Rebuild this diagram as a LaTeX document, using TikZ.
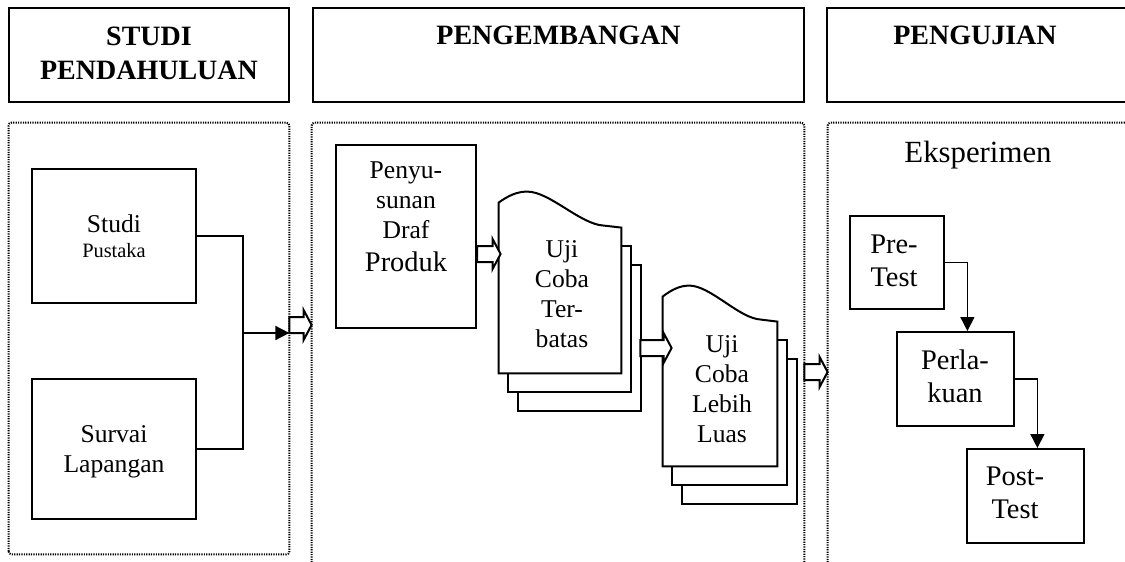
\documentclass[tikz,border=0pt]{standalone}
\usepackage{fontspec}
\setmainfont{Liberation Serif}
\usetikzlibrary{arrows.meta,calc}
\tikzset{
 hbox/.style={draw, line width=1pt, rectangle, inner sep=0},
 box/.style={draw, line width=1pt, rectangle, inner sep=0, fill=white},
 page/.style={draw, line width=1pt, fill=white},
 panel/.style={rectangle, inner sep=0},
 dotline/.style={line width=1pt, dash pattern=on 0.6pt off 0.6pt},
 conn/.style={line width=0.8pt},
 tri/.style={-{Triangle[length=7pt,width=7pt]}},
 hollow/.style={draw, line width=1pt, fill=white, line join=miter},
 lbl/.style={inner sep=0, align=center, anchor=base, font=\fontsize{12.8}{15}\selectfont},
 big/.style={font=\fontsize{14.2}{16.5}\selectfont},
 head/.style={inner sep=0, align=center, anchor=base, font=\fontsize{14}{17}\selectfont\bfseries},
}
\newcommand\hollowarrow[3]{%
 \path[hollow] let \p1=(#1), \p2=(#2), \p3=(0,#3) in
  (\x1,\y3+4pt) -- (\x2-4pt,\y3+4pt) -- (\x2-4pt,\y3+7.5pt) -- (\x2,\y3)
  -- (\x2-4pt,\y3-7.5pt) -- (\x2-4pt,\y3-4pt) -- (\x1,\y3-4pt) -- cycle;}
\newcommand\docstack[1]{%
 \path[page] ($(#1.north west)+(19.5,62)$) rectangle ($(#1.south east)+(19.5,38)$);
 \path[page] ($(#1.north west)+(9.5,43)$) rectangle ($(#1.south east)+(9.5,19)$);
 \path[page] (#1.south west) -- (#1.south east) -- ($(#1.north east)+(0,25)$)
  -- ($(#1.north west)!0.858!(#1.north east)+(0,23)$)
  .. controls ($(#1.north west)!0.667!(#1.north east)+(0,22)$) and ($(#1.north west)!0.417!(#1.north east)+(0,-11)$)
  .. ($(#1.north west)!0.233!(#1.north east)+(0,-11)$)
  .. controls ($(#1.north west)!0.15!(#1.north east)+(0,-11)$) and ($(#1.north west)!0.08!(#1.north east)+(0,-7)$)
  .. (#1.north west) -- cycle;}
\begin{document}
\begin{tikzpicture}[x=0.5pt, y=-0.5pt]
\useasboundingbox (0,0) rectangle (1125,562);
% headings
\node[hbox, minimum width=140pt, minimum height=47pt] (h1) at (149,55) {};
\node[hbox, minimum width=245.5pt, minimum height=47pt] (h2) at (558.5,55) {};
\node[hbox, minimum width=150.5pt, minimum height=47pt] (h3) at (977.5,55) {};
\node[head] (th1) at (149,79) {STUDI\\PENDAHULUAN};
\node[head] (th2) at (558.5,45) {PENGEMBANGAN};
\node[head] (th3) at (975,45) {PENGUJIAN};
% panels
\node[panel, minimum width=140pt, minimum height=215.5pt] (p1) at (149,338.5) {};
\node[panel, minimum width=246pt, minimum height=219.5pt] (p2) at (558,342.5) {};
\node[panel, minimum width=150pt, minimum height=219.5pt] (p3) at (978,342.5) {};
\draw[dotline, rounded corners=1.5pt] (p1.south west) rectangle (p1.north east);
\draw[dotline, rounded corners=1.5pt] (p2.south west) -- (p2.north west) -- (p2.north east) -- (p2.south east);
\draw[dotline, rounded corners=1.5pt] (p3.south west) -- (p3.north west) -- (p3.north east);
% studi pendahuluan
\node[box, minimum width=82pt, minimum height=67pt] (studi) at (114,236) {};
\node[lbl] (tstudi) at (114,257) {Studi\\[-2.5pt]{\fontsize{10.2}{12}\selectfont Pustaka}};
\node[box, minimum width=82pt, minimum height=70pt] (survai) at (114,449) {};
\node[lbl] (tsurvai) at (114,472) {Survai\\Lapangan};
\coordinate (j) at (243,333);
\draw[conn] (studi.east) -| (j) |- (survai.east);
\draw[conn, tri] (j) -- (p1.east |- j);
\hollowarrow{p1.east}{p2.west}{325}
% pengembangan
\node[box, minimum width=70pt, minimum height=91.5pt] (pen) at (406,236.5) {};
\node[lbl] (tpen) at (406,271) {Penyu-\\sunan\\Draf\\[1.5pt]{\fontsize{14.2}{16.5}\selectfont Produk}};
\node[panel, minimum width=61pt, minimum height=85pt] (doc1) at (560,288) {};
\docstack{doc1}
\node[lbl] (tdoc1) at (562,347) {Uji\\Coba\\Ter-\\batas};
\hollowarrow{pen.east}{[xshift=1pt]doc1.west}{254}
\node[panel, minimum width=57pt, minimum height=84.5pt] (doc2) at (720,381.5) {};
\docstack{doc2}
\node[lbl] (tdoc2) at (722,442) {Uji\\Coba\\Lebih\\Luas};
\hollowarrow{[xshift=9.5pt]doc1.east}{[xshift=4.5pt]doc2.west}{348}
\hollowarrow{p2.east}{p3.west}{372}
% pengujian
\node[lbl, font=\fontsize{15.4}{18}\selectfont] (teks) at (978,162) {Eksperimen};
\node[box, minimum width=47pt, minimum height=46.5pt] (pre) at (897,262.5) {};
\node[lbl, big] (tpre) at (894,286) {Pre-\\Test};
\node[box, minimum width=58.5pt, minimum height=47pt] (perl) at (955.5,379) {};
\node[lbl, big] (tperl) at (955,402) {Perla-\\kuan};
\node[box, minimum width=58.5pt, minimum height=47pt] (post) at (1025.5,496) {};
\node[lbl, big] (tpost) at (1015,518) {Post-\\Test};
\draw[conn, tri] (pre.east) -| ($(perl.north west)!0.6!(perl.north east)$);
\draw[conn, tri] (perl.east) -| ($(post.north west)!0.6!(post.north east)$);
\end{tikzpicture}
\end{document}
